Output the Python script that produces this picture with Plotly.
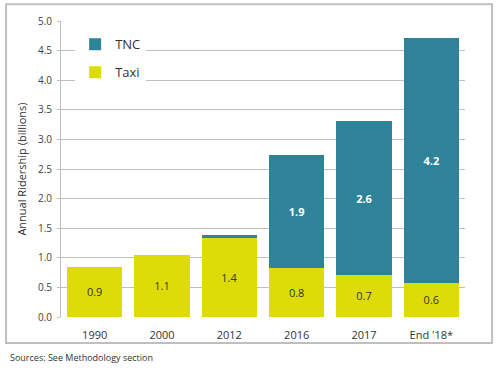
import plotly.graph_objects as go

categories = ["1990", "2000", "2012", "2016", "2017", "End '18*"]
taxi_values = [0.85, 1.05, 1.35, 0.83, 0.71, 0.58]
tnc_values = [0.0, 0.0, 0.03, 1.91, 2.60, 4.14]
taxi_labels = ["0.9", "1.1", "1.4", "0.8", "0.7", "0.6"]
tnc_labels = ["", "", "", "1.9", "2.6", "4.2"]
y_ticks = [0, 0.5, 1.0, 1.5, 2.0, 2.5, 3.0, 3.5, 4.0, 4.5, 5.0]

FONT = "Open Sans"
TEAL = "#2F8399"
YELLOW = "#DEDC08"

fig = go.Figure()
fig.add_trace(go.Bar(
    x=categories, y=taxi_values, name="Taxi", legendgroup="taxi", legendrank=2,
    marker=dict(color=YELLOW, line=dict(width=0)),
    text=taxi_labels, textposition="inside", insidetextanchor="middle",
    textangle=0, constraintext="none",
    textfont=dict(family=FONT, size=11, color="#333333"),
))
fig.add_trace(go.Bar(
    x=categories, y=tnc_values, name="TNC", legendgroup="tnc", legendrank=1,
    marker=dict(color=TEAL, line=dict(width=0)),
    text=tnc_labels, textposition="inside", insidetextanchor="middle",
    textangle=0, constraintext="none",
    textfont=dict(family=FONT, size=11, color="white", weight="bold"),
))

fig.update_layout(
    width=499, height=372,
    margin=dict(l=61, r=34, t=21, b=55),
    barmode="stack", bargap=0.18,
    paper_bgcolor="white", plot_bgcolor="white",
    font=dict(family=FONT, size=11, color="#404040"),
    showlegend=True,
    legend=dict(
        x=0.035, y=0.972, xanchor="left", yanchor="top",
        bgcolor="white", traceorder="grouped", tracegroupgap=8,
        itemwidth=30,
        font=dict(family=FONT, size=13, color="#333333"),
    ),
    xaxis=dict(
        showgrid=False, showline=False, ticks="", ticklabelstandoff=10,
        automargin=False,
        tickfont=dict(family=FONT, size=11, color="#333333"),
    ),
    yaxis=dict(
        range=[0, 5.0], tickvals=y_ticks, tickformat=".1f",
        showgrid=True, gridcolor="#BFBFBF", gridwidth=1,
        showline=True, linecolor="#BFBFBF", linewidth=1,
        ticks="outside", ticklen=3, tickcolor="#BFBFBF",
        ticklabelstandoff=3,
        zeroline=False, automargin=False,
        tickfont=dict(family=FONT, size=10, color="#404040"),
        title=dict(text="Annual Ridership (billions)", standoff=9,
                   font=dict(family=FONT, size=11, color="#333333")),
    ),
    shapes=[dict(
        type="rect", xref="paper", yref="paper",
        x0=-0.136, x1=1.067, y0=-0.088, y1=1.057,
        line=dict(color="#BFBFBF", width=2), fillcolor="rgba(0,0,0,0)",
        layer="below",
    )],
    annotations=[dict(
        text="Sources: See Methodology section", xref="paper", yref="paper",
        x=-0.132, y=-0.138, xanchor="left", yanchor="middle", showarrow=False,
        font=dict(family=FONT, size=9, color="#333333"),
    )],
)

fig.write_html(
    "out.html",
    config={"displayModeBar": False},
    post_script="document.body.style.margin='0';document.body.style.padding='0';",
)
